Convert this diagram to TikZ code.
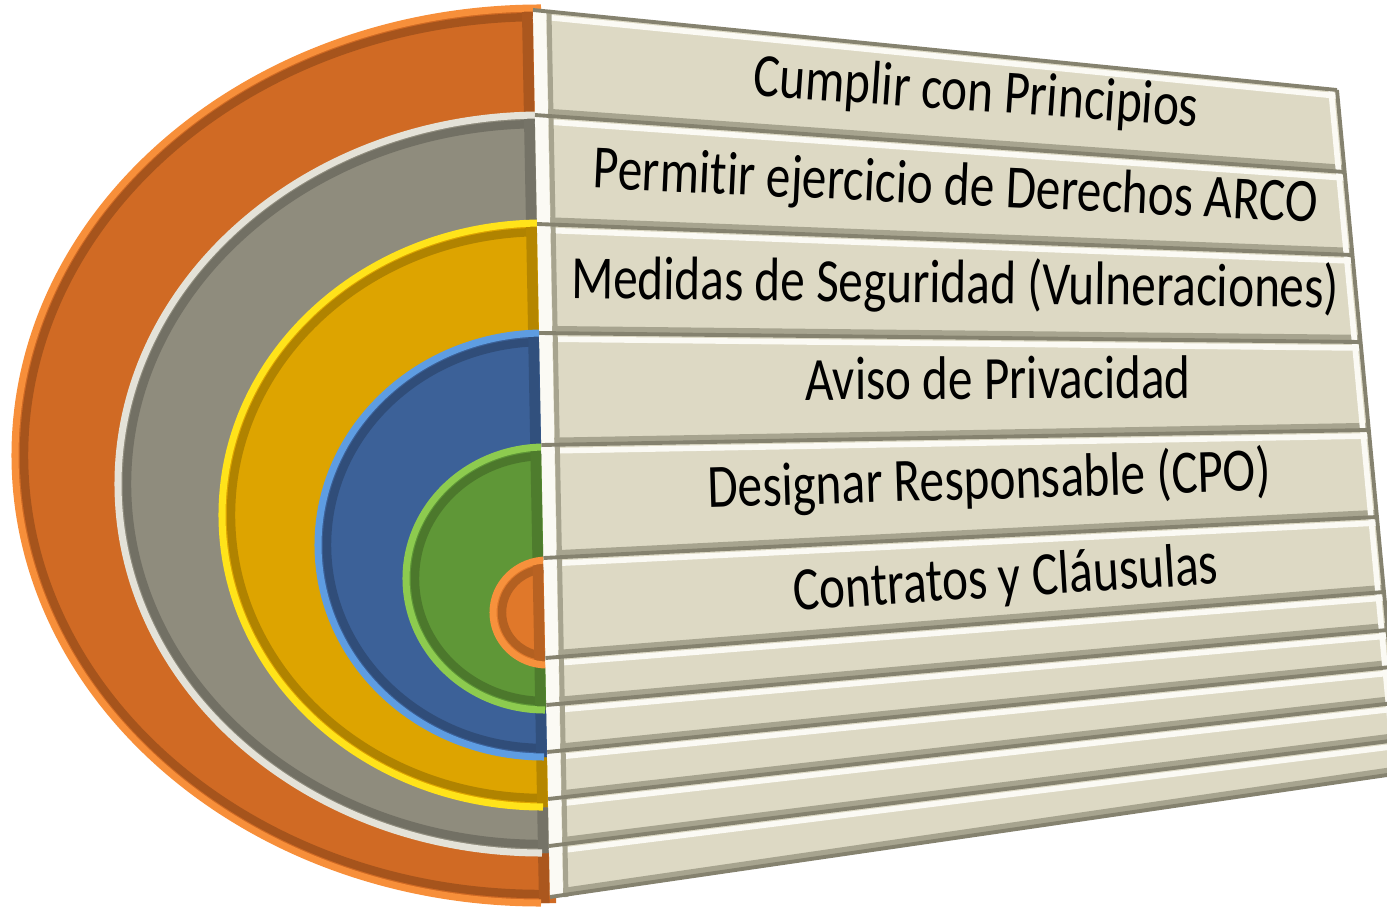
\documentclass[tikz,border=0pt]{standalone}
\usepackage{fontspec}
\setmainfont{Carlito}[Ligatures=NoCommon]
\usetikzlibrary{calc}

\definecolor{ringorange}{HTML}{D06A24}
\definecolor{rimorange}{HTML}{F78F3A}
\definecolor{ringgray}{HTML}{8F8C7D}
\definecolor{rimgray}{HTML}{E4E2D8}
\definecolor{ringyellow}{HTML}{DDA400}
\definecolor{rimyellow}{HTML}{FFE31A}
\definecolor{ringblue}{HTML}{3C6198}
\definecolor{rimblue}{HTML}{5E9DE2}
\definecolor{ringgreen}{HTML}{5F9737}
\definecolor{rimgreen}{HTML}{8DCB4F}
\definecolor{ringcore}{HTML}{E0782A}
\definecolor{rimcore}{HTML}{F7913C}
\definecolor{barfill}{HTML}{DDD9C4}
\definecolor{baredge}{HTML}{85826F}
\definecolor{barshade}{HTML}{A7A48F}
\definecolor{barlight}{HTML}{FBFAF4}

\begin{document}
\begin{tikzpicture}[
    x=0.01cm, y=-0.01cm,
    bar/.style={fill=barfill},
    sep/.style={draw=baredge, line width=1.1pt},
    hilite/.style={draw=barlight, line width=1.6pt},
    shade/.style={draw=barshade, line width=1.8pt},
    lbl/.style={font=\fontsize{17.5pt}{20pt}\selectfont, xscale=0.8, anchor=base, inner sep=0pt}
]
    \useasboundingbox (0,0) rectangle (1387,909);
    \clip (0,0) rectangle (1387,909);

    % Half rings, outer to inner
    \foreach \cx/\cy/\rx/\ry/\fc/\rc in {
        541/455.5/526/447.5/ringorange/rimorange,
        542/484/424/369/ringgray/rimgray,
        543/515/321/292/ringyellow/rimyellow,
        544/545/226/212/ringblue/rimblue,
        545/578.5/139/131.5/ringgreen/rimgreen,
        547/612.5/54/52.5/ringcore/rimcore} {
        \begin{scope}
            \clip (\cx,\cy-\ry) arc[start angle=90, end angle=270, x radius=\rx*0.01cm, y radius=\ry*0.01cm]
                -- ({539+(\cy+\ry-10)*0.0192}, \cy+\ry) -- ({539+(\cy-\ry-10)*0.0192}, \cy-\ry) -- cycle;
            \fill[\fc] (0,0) rectangle (1387,909);
            \draw[black, opacity=0.2, line width=2.4pt] (\cx,\cy-\ry+9)
                arc[start angle=90, end angle=270, x radius=(\rx-9)*0.01cm, y radius=(\ry-9)*0.01cm];
            \draw[\fc!82!black, line width=3pt] (527,0) -- (544.4,909);
        \end{scope}
        \draw[\rc, line width=2pt] (\cx,\cy-\ry)
            arc[start angle=90, end angle=270, x radius=\rx*0.01cm, y radius=\ry*0.01cm];
    }

    % Bar corners (left and right edge of the panel)
    \foreach \i/\yl/\yr in {0/10/90, 1/115/172, 2/224/255, 3/333/342, 4/445/430, 5/558/517,
                            6/658/592, 7/705/630, 8/752/667, 9/799/703, 10/846/740, 11/897/773} {
        \coordinate (bL\i) at ({533+(\yl-10)*0.0192}, \yl);
        \coordinate (bR\i) at ({1337+(\yr-90)*0.0936}, \yr);
    }

    % Bars
    \foreach \i [count=\j from 1] in {0,...,10} {
        \fill[bar] (bL\i) -- (bR\i) -- (bR\j) -- (bL\j) -- cycle;
        \draw[shade] ($(bL\j)+(0,-4)$) -- ($(bR\j)+(0,-4)$);
        \draw[hilite] ($(bL\i)+(0,6)$) -- ($(bR\i)+(0,6)$);
    }

    % Left and right bevel of the panel
    \fill[barlight] (bL0) -- ($(bL0)+(13,0)$) -- ($(bL11)+(13,0)$) -- (bL11) -- cycle;
    \draw[shade, line width=1.4pt] ($(bL0)+(16,0)$) -- ($(bL11)+(16,0)$);
    \draw[barlight, line width=1.6pt] ($(bR0)+(-6,0)$) \foreach \i in {1,...,11} { -- ($(bR\i)+(-6,0)$) };
    \draw[sep] (bR0) \foreach \i in {1,...,11} { -- (bR\i) };
    \foreach \i in {0,...,11} { \draw[sep] (bL\i) -- (bR\i); }

    % Labels
    \node[rotate=-4, lbl] (cumplir) at (975,111) {Cumplir con Principios};
    \node[rotate=-2.7, lbl] (derechos) at (955,205) {Permitir ejercicio de Derechos ARCO};
    \node[rotate=-0.7, lbl] (medidas) at (955,303) {Medidas de Seguridad (Vulneraciones)};
    \node[rotate=0.3, lbl] (aviso) at (998,399) {Aviso de Privacidad};
    \node[rotate=1.8, lbl] (designar) at (990,499) {Designar Responsable (CPO)};
    \node[rotate=3.6, lbl] (contratos) at (1007,597) {Contratos y Cláusulas};
\end{tikzpicture}
\end{document}
